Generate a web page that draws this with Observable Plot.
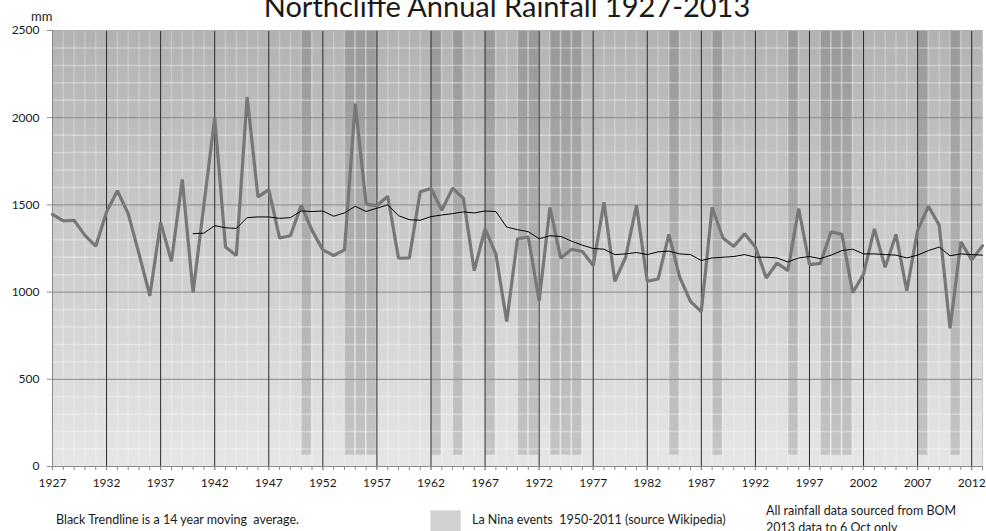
<!DOCTYPE html>
<html><head><meta charset="utf-8">
<script src="https://cdn.jsdelivr.net/npm/d3@7"></script>
<script src="https://cdn.jsdelivr.net/npm/@observablehq/plot@0.6"></script>
<style>
body{margin:0;background:#fff;}
#wrap{position:relative;width:986px;height:531px;overflow:hidden;font-family:Lato,"Open Sans",sans-serif;color:#1a1a1a;}
#chart{position:absolute;left:0;top:0;}
.t{position:absolute;white-space:pre;line-height:1;}
</style></head><body>
<div id="wrap">
 <div id="chart"></div>
 <div class="t" id="title" style="left:0;width:1014px;text-align:center;top:-9px;font-size:29px;">Northcliffe Annual Rainfall 1927-2013</div>
 <div class="t" style="left:31px;top:10px;font-size:13px;">mm</div>
 <div class="t" style="left:56px;top:514px;font-size:12.5px;">Black Trendline is a 14 year moving  average.</div>
 <div style="position:absolute;left:430px;top:510px;width:31px;height:26px;background:#d2d2d2;border:1px solid #e2e2e2;box-sizing:border-box;"></div>
 <div class="t" style="left:472px;top:514px;font-size:12.5px;">La Nina events  1950-2011 (source Wikipedia)</div>
 <div class="t" style="left:766px;top:505px;font-size:12.5px;">All rainfall data sourced from BOM</div>
 <div class="t" style="left:766px;top:522px;font-size:12.5px;">2013 data to 6 Oct only</div>
</div>
<script>
const firstYear = 1927;
const rainfall = [1446,1408,1411,1325,1263,1460,1581,1450,1219,979,
  1400,1177,1646,998,1500,2000,1258,1210,2119,1546,
  1588,1310,1323,1498,1354,1242,1210,1242,2081,1504,
  1496,1550,1194,1196,1575,1594,1469,1596,1537,1123,
  1363,1219,831,1306,1315,950,1485,1194,1246,1233,
  1152,1515,1062,1200,1498,1062,1075,1331,1085,946,
  888,1485,1310,1262,1335,1258,1081,1167,1123,1479,
  1158,1165,1346,1331,996,1104,1362,1142,1331,1008,
  1354,1492,1383,792,1288,1185,1265];
const maFirstYear = 1940;
const movingAvg = [1335,1338,1381,1369,1365,1427,1431,1431,1423,1427,
  1465,1462,1465,1435,1454,1492,1462,1481,1500,1438,
  1415,1412,1433,1442,1450,1460,1454,1465,1462,1373,
  1358,1346,1306,1323,1319,1292,1269,1250,1246,1215,
  1219,1227,1215,1231,1235,1219,1215,1181,1196,1200,
  1204,1215,1200,1200,1196,1173,1196,1204,1192,1212,
  1238,1246,1219,1219,1215,1212,1196,1212,1238,1258,
  1208,1219,1215,1212];
const laNinaYears = [1950,1954,1955,1956,1962,1964,1967,1970,1971,1973,1974,1975,1984,1988,1995,1998,1999,2000,2007,2010];
const laNinaBase = 65, laNinaTop = 2500;
const xTickYears = [1927,1932,1937,1942,1947,1952,1957,1962,1967,1972,1977,1982,1987,1992,1997,2002,2007,2012];
const yTicks = [0,500,1000,1500,2000,2500];
const yMinor = [100,200,300,400,600,700,800,900,1100,1200,1300,1400,1600,1700,1800,1900,2100,2200,2300,2400];
const lastYear = 2013;

const rainData = rainfall.map((v, i) => ({year: firstYear + i, mm: v}));
const maData = movingAvg.map((v, i) => ({year: maFirstYear + i, mm: v}));
const allYears = rainData.map(d => d.year);
const minorYears = allYears.filter(y => !xTickYears.includes(y) && y !== lastYear);

const chart = Plot.plot({
  width: 986, height: 531,
  marginLeft: 52, marginRight: 4, marginTop: 30, marginBottom: 65,
  style: {fontFamily: "Lato, 'Open Sans', sans-serif", fontSize: "12px", color: "#1a1a1a", background: "white", overflow: "visible"},
  x: {domain: [firstYear, lastYear], axis: null},
  y: {domain: [0, 2500], axis: null},
  marks: [
    Plot.frame({fill: "url(#bgGrad)", stroke: null}),
    Plot.rectY(laNinaYears, {x1: d => d + 0.06, x2: d => d + 0.94, y1: laNinaBase, y2: laNinaTop, fill: "#000", fillOpacity: 0.14}),
    Plot.ruleY(yMinor, {stroke: "#fff", strokeOpacity: 0.35, strokeWidth: 1.5}),
    Plot.ruleX(minorYears, {stroke: "#fff", strokeOpacity: 0.25, strokeWidth: 1.5}),
    Plot.ruleY(yTicks.filter(v => v > 0 && v < 2500), {stroke: "#8a8a8a", strokeWidth: 1}),
    Plot.ruleX(xTickYears.filter(y => y > firstYear), {stroke: "#2a2a2a", strokeWidth: 1}),
    Plot.ruleX([lastYear], {stroke: "#c8c8c8", strokeWidth: 1}),
    Plot.ruleY([2500], {stroke: "#b0b0b0", strokeWidth: 1}),
    Plot.ruleX([firstYear], {stroke: "#8a8a8a", strokeWidth: 1}),
    Plot.ruleY([0], {stroke: "#8a8a8a", strokeWidth: 1}),
    Plot.axisX({ticks: allYears, tickSize: 4, stroke: "#8a8a8a", tickFormat: () => "", label: null}),
    Plot.axisX({ticks: xTickYears, tickSize: 4, tickPadding: 8, tickFormat: d => String(d), stroke: "#8a8a8a", fontSize: 12, fill: "#1a1a1a", label: null}),
    Plot.axisY({ticks: yTicks, tickSize: 5, tickPadding: 8, tickFormat: d => String(d), stroke: "#8a8a8a", fontSize: 12, fill: "#1a1a1a", label: null}),
    Plot.line(rainData, {x: "year", y: "mm", stroke: "#777", strokeWidth: 3.2, strokeLinejoin: "miter"}),
    Plot.line(maData, {x: "year", y: "mm", stroke: "#000", strokeWidth: 1})
  ]
});
const svg = d3.select(chart);
svg.insert("defs", ":first-child").html(
  '<linearGradient id="bgGrad" x1="0" y1="0" x2="0" y2="1">' +
  '<stop offset="0" stop-color="#b2b2b2"/><stop offset="1" stop-color="#e6e6e6"/></linearGradient>');
document.getElementById("chart").appendChild(chart);
</script>
</body></html>
